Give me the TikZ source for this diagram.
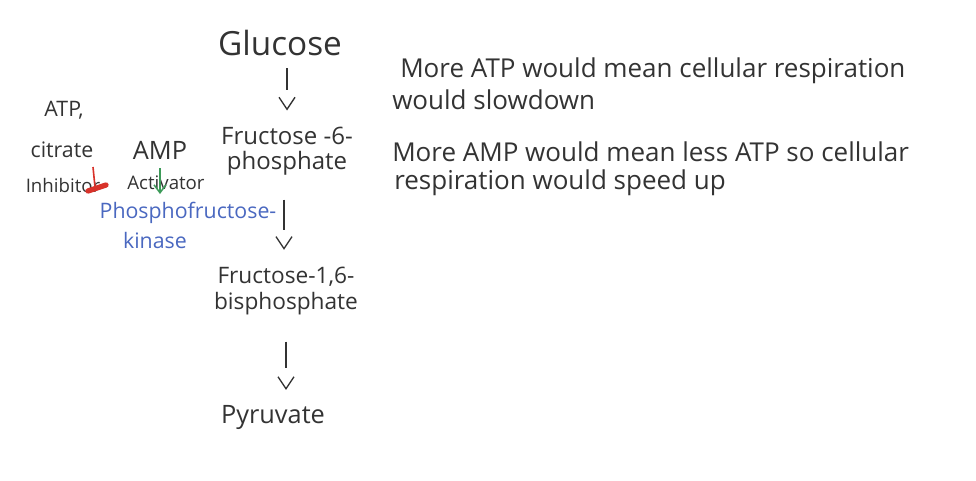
\documentclass[tikz,border=0pt]{standalone}
\usepackage{fontspec}
\setmainfont{Open Sans}
\usetikzlibrary{arrows.meta}
\definecolor{ink}{HTML}{333333}
\definecolor{bluink}{HTML}{4A68C0}
\definecolor{redink}{HTML}{D8322A}
\definecolor{grnink}{HTML}{3C9A58}
\tikzset{
  lbl/.style={inner sep=0pt, text=ink, font=\fontsize{18}{19}\selectfont, align=center},
  big/.style={inner sep=0pt, text=ink, font=\fontsize{25}{26}\selectfont},
  small/.style={inner sep=0pt, text=ink, font=\fontsize{13}{14}\selectfont},
  mid/.style={inner sep=0pt, text=ink, font=\fontsize{19}{20}\selectfont},
  note/.style={inner sep=0pt, text=ink, font=\fontsize{19.5}{21}\selectfont, anchor=west},
  flow/.style={draw=ink, line width=1pt, -{Straight Barb[length=9pt, width=12pt]}},
}
\begin{document}
\begin{tikzpicture}[x=0.75pt, y=-0.75pt]
\useasboundingbox (0,0) rectangle (976,480);
% main pathway
\node[big] (glc) at (280,43) {Glucose};
\node[lbl] (f6p) at (287,151) {Fructose -6-\\phosphate};
\node[lbl, font=\fontsize{17}{19}\selectfont] (f16) at (286,291) {Fructose-1,6-\\bisphosphate};
\node[mid] (pyr) at (273,417) {Pyruvate};
\draw[flow, dash pattern=on 16.5pt off 100pt, shorten <=9pt, shorten >=12pt]
  ([xshift=5.25pt]glc.south) -- (f6p.north);
\draw[flow, dash pattern=on 22.5pt off 100pt, shorten <=18pt, shorten >=13pt]
  ([xshift=-2.25pt]f6p.south) -- ([xshift=-1.5pt]f16.north);
\draw[flow, dash pattern=on 19.5pt off 100pt, shorten <=20pt, shorten >=11pt]
  (f16.south) -- ([xshift=9.75pt]pyr.north);
% regulators
\node[mid, font=\fontsize{16}{17}\selectfont] (atp) at (64,110) {ATP,};
\node[small, font=\fontsize{16}{17}\selectfont] (cit) at (62,150) {citrate};
\node[small, font=\fontsize{14}{15}\selectfont] (inh) at (63,185) {Inhibitor};
\node[mid] (amp) at (160,150) {AMP};
\node[small, font=\fontsize{14}{15}\selectfont] (act) at (166,183) {Activator};
\node[inner sep=0pt, text=bluink, font=\fontsize{16}{17}\selectfont] (pfk1) at (188,213) {Phosphofructose-};
\node[inner sep=0pt, text=bluink, font=\fontsize{16}{17}\selectfont] (pfk2) at (155,240) {kinase};
\coordinate (iA) at (93,167);
\coordinate (iB) at (95,187);
\draw[redink, line width=1.2pt] (iA) -- (iB);
\draw[redink, line width=4pt, line cap=round] (88,191) -- (106,185);
\coordinate (aA) at (160,168);
\coordinate (aB) at (160,194);
\draw[grnink, line width=1.1pt, -{Straight Barb[length=6pt, width=9pt]}] (aA) -- (aB);
% notes
\node[note] (n1) at (400,71) {More ATP would mean cellular respiration};
\node[note] (n2) at (392,100) {would slowdown};
\node[note] (n3) at (392,152) {More AMP would mean less ATP so cellular};
\node[note] (n4) at (394,183) {respiration would speed up};
\end{tikzpicture}
\end{document}
